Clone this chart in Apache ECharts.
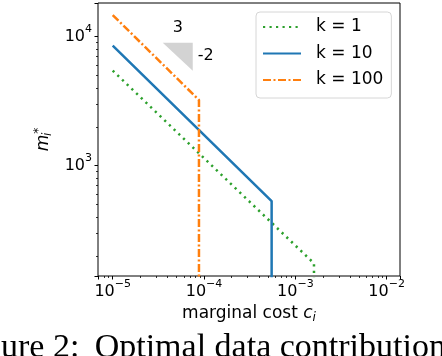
<!DOCTYPE html>
<html>
<head>
<meta charset="utf-8">
<script src="https://cdn.jsdelivr.net/npm/echarts@6/dist/echarts.min.js"></script>
<style>
html, body { margin: 0; padding: 0; background: #fff; }
#chart { width: 442px; height: 356px; }
</style>
</head>
<body>
<div id="chart"></div>
<script>
// values (c_i, m_i*)
var seriesNames = ['k = 1', 'k = 10', 'k = 100'];
var k1Data = [[1e-5, 5450], [1.6e-3, 175], [1.6e-3, 10]];
var k10Data = [[1e-5, 8510], [5.5e-4, 532], [5.5e-4, 10]];
var k100Data = [[1e-5, 14700], [8.8e-5, 3230], [8.8e-5, 10]];
// slope triangle: [x left, y top, x right, y bottom]
var slopeTriangle = [[3.53e-5, 8980, 7.53e-5, 5450]];
var slopeLabels = ['3', '-2'];
var captionText = 'ure 2: \u2009Optimal data contribution';

var xMin = 6.9e-6, xMax = 0.014;
var yMin = 139.6, yMax = 18240;

function minorTicks(lo, hi) {
    var out = [];
    for (var e = Math.floor(Math.log10(lo)); e <= Math.ceil(Math.log10(hi)); e++) {
        for (var m = 2; m <= 9; m++) {
            var v = m * Math.pow(10, e);
            if (v > lo && v < hi) out.push(v);
        }
    }
    return out;
}

var font = 'DejaVu Sans';
var labelRich = {
    b: { fontFamily: font, fontSize: 16, color: '#000', lineHeight: 26, verticalAlign: 'middle' },
    s: { fontFamily: font, fontSize: 11, color: '#000', lineHeight: 15, verticalAlign: 'top' }
};

function powLabel(v) {
    var e = Math.log10(v);
    if (Math.abs(e - Math.round(e)) > 1e-6) return '';
    e = Math.round(e);
    return '{b|10}{s|' + (e < 0 ? '\u2212' + (-e) : e) + '}';
}

var chart = echarts.init(document.getElementById('chart'));

var option = {
    animation: false,
    backgroundColor: '#fff',
    grid: {
        left: 98, right: 42, top: 3, bottom: 80,
        show: true, borderColor: '#000', borderWidth: 1, backgroundColor: 'transparent'
    },
    legend: {
        data: seriesNames,
        orient: 'vertical',
        left: 256, top: 12,
        padding: [6.5, 8, 9.5, 6],
        itemWidth: 38, itemHeight: 17, itemGap: 9.5,
        itemStyle: { opacity: 0 },
        borderColor: '#d6d6d6', borderWidth: 1, borderRadius: 4,
        backgroundColor: 'rgba(255,255,255,0.8)',
        textStyle: { fontFamily: font, fontSize: 17, color: '#000', padding: [0, 0, 0, 10] }
    },
    xAxis: [{
        type: 'log', min: xMin, max: xMax,
        name: 'marginal cost {c|c}{i|i}',
        nameLocation: 'middle', nameGap: 27,
        nameTextStyle: {
            fontFamily: font, fontSize: 17, color: '#000',
            rich: {
                c: { fontFamily: font, fontSize: 17, fontStyle: 'italic', color: '#000' },
                i: { fontFamily: font, fontSize: 12, fontStyle: 'italic', color: '#000', padding: [8, 0, 0, 0] }
            }
        },
        axisLine: { show: false },
        axisTick: { show: true, length: 3.5, lineStyle: { color: '#000', width: 1 } },
        axisLabel: { margin: 3, formatter: powLabel, rich: labelRich },
        splitLine: { show: false }
    }, {
        type: 'log', min: xMin, max: xMax, position: 'bottom',
        axisLine: { show: false },
        axisTick: { show: true, length: 2, customValues: minorTicks(xMin, xMax), lineStyle: { color: '#000', width: 0.8 } },
        axisLabel: { show: false },
        splitLine: { show: false }
    }],
    yAxis: [{
        type: 'log', min: yMin, max: yMax,
        name: '{m|m}{i|i}{s|*}',
        nameLocation: 'middle', nameGap: 42,
        nameTextStyle: {
            rich: {
                m: { fontFamily: font, fontSize: 17, fontStyle: 'italic', color: '#000' },
                i: { fontFamily: font, fontSize: 12, fontStyle: 'italic', color: '#000', width: 1, padding: [9, 0, 0, 0] },
                s: { fontFamily: font, fontSize: 12, color: '#000', padding: [0, 0, 9, 0] }
            }
        },
        axisLine: { show: false },
        axisTick: { show: true, length: 3.5, lineStyle: { color: '#000', width: 1 } },
        axisLabel: { margin: 6, formatter: powLabel, rich: labelRich },
        splitLine: { show: false }
    }, {
        type: 'log', min: yMin, max: yMax, position: 'left',
        axisLine: { show: false },
        axisTick: { show: true, length: 2, customValues: minorTicks(yMin, yMax), lineStyle: { color: '#000', width: 0.8 } },
        axisLabel: { show: false },
        splitLine: { show: false }
    }],
    series: [{
        name: seriesNames[0], type: 'line', data: k1Data,
        symbol: 'none', color: '#2ca02c',
        lineStyle: { width: 2.5, type: [2.2, 4.3], cap: 'butt' }
    }, {
        name: seriesNames[1], type: 'line', data: k10Data,
        symbol: 'none', color: '#1f77b4',
        lineStyle: { width: 2.5 }
    }, {
        name: seriesNames[2], type: 'line', data: k100Data,
        symbol: 'none', color: '#ff7f0e',
        lineStyle: { width: 2.5, type: [8, 2.5, 2, 2.5], cap: 'butt' }
    }, {
        type: 'custom', data: slopeTriangle, silent: true,
        encode: { x: [0, 2], y: [1, 3] },
        renderItem: function (params, api) {
            var a = api.coord([api.value(0), api.value(1)]);
            var b = api.coord([api.value(2), api.value(1)]);
            var c = api.coord([api.value(2), api.value(3)]);
            return {
                type: 'group',
                children: [{
                    type: 'polygon', shape: { points: [a, b, c] }, style: { fill: '#d3d3d3' }
                }, {
                    type: 'text', x: (a[0] + b[0]) / 2, y: a[1] - 7,
                    style: { text: slopeLabels[0], fontFamily: font, fontSize: 16, fill: '#000', align: 'center', verticalAlign: 'bottom' }
                }, {
                    type: 'text', x: b[0] + 5, y: (b[1] + c[1]) / 2 - 1,
                    style: { text: slopeLabels[1], fontFamily: font, fontSize: 16, fill: '#000', align: 'left', verticalAlign: 'middle' }
                }]
            };
        }
    }],
    graphic: [{
        type: 'text', left: 1, top: 331,
        style: { text: captionText, fontFamily: 'Liberation Serif', fontSize: 34, fill: '#000' }
    }]
};

chart.setOption(option);
</script>
</body>
</html>
